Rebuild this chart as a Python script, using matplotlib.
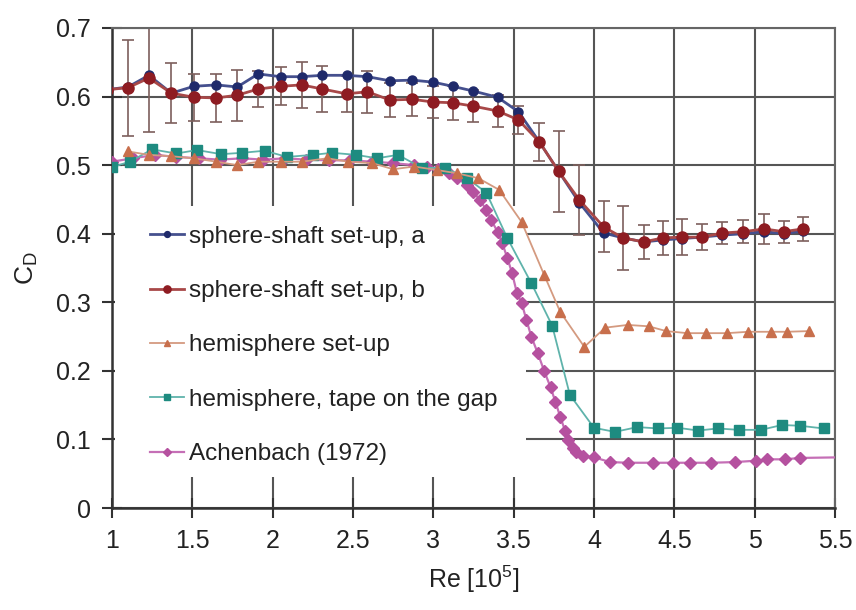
import matplotlib
matplotlib.use('Agg')
import matplotlib.pyplot as plt
from matplotlib.patches import Rectangle

plt.rcParams['font.family'] = ['Liberation Sans', 'DejaVu Sans']
plt.rcParams['mathtext.fontset'] = 'custom'
plt.rcParams['mathtext.rm'] = 'Liberation Sans'
plt.rcParams['mathtext.it'] = 'Liberation Sans'

# sphere-shaft set-up, a / b (same Re points)
re_shaft = [0.97, 1.10, 1.23, 1.37, 1.51, 1.65, 1.78, 1.91, 2.05, 2.18, 2.31, 2.46,
            2.59, 2.73, 2.87, 3.00, 3.12, 3.25, 3.40, 3.53, 3.66, 3.78, 3.91, 4.06,
            4.18, 4.31, 4.43, 4.55, 4.67, 4.80, 4.93, 5.06, 5.18, 5.30]
cd_shaft_a = [0.610, 0.614, 0.631, 0.605, 0.615, 0.617, 0.614, 0.633, 0.629, 0.629, 0.631, 0.631,
              0.629, 0.623, 0.624, 0.621, 0.615, 0.608, 0.599, 0.578, 0.534, 0.491, 0.445, 0.401,
              0.394, 0.388, 0.391, 0.393, 0.395, 0.398, 0.400, 0.403, 0.400, 0.404]
cd_shaft_b = [0.610, 0.613, 0.627, 0.605, 0.599, 0.598, 0.602, 0.611, 0.615, 0.617, 0.611, 0.604,
              0.607, 0.595, 0.596, 0.592, 0.591, 0.586, 0.579, 0.566, 0.534, 0.491, 0.449, 0.410,
              0.394, 0.388, 0.394, 0.395, 0.395, 0.401, 0.403, 0.407, 0.403, 0.407]
err_shaft_b = [0.0, 0.070, 0.078, 0.044, 0.034, 0.035, 0.037, 0.026, 0.028, 0.034, 0.033, 0.026,
               0.031, 0.025, 0.024, 0.023, 0.025, 0.023, 0.023, 0.020, 0.028, 0.059, 0.051, 0.037,
               0.047, 0.025, 0.025, 0.026, 0.019, 0.016, 0.017, 0.022, 0.016, 0.017]

# hemisphere set-up
re_hemi = [1.10, 1.23, 1.37, 1.51, 1.65, 1.78, 1.91, 2.05, 2.18, 2.34, 2.47, 2.62, 2.75,
           2.88, 3.02, 3.15, 3.28, 3.41, 3.55, 3.69, 3.79, 3.94, 4.07, 4.21, 4.34, 4.45,
           4.58, 4.70, 4.83, 4.96, 5.10, 5.20, 5.34]
cd_hemi = [0.520, 0.515, 0.513, 0.510, 0.505, 0.500, 0.505, 0.505, 0.505, 0.510, 0.505, 0.503, 0.494,
           0.498, 0.493, 0.488, 0.481, 0.464, 0.417, 0.340, 0.286, 0.235, 0.263, 0.267, 0.265, 0.258,
           0.255, 0.255, 0.255, 0.257, 0.257, 0.257, 0.258]

# hemisphere, tape on the gap
re_tape = [1.00, 1.11, 1.25, 1.40, 1.53, 1.68, 1.81, 1.95, 2.09, 2.25, 2.37, 2.52, 2.65,
           2.78, 2.93, 3.07, 3.21, 3.33, 3.46, 3.61, 3.74, 3.85, 4.00, 4.13, 4.27, 4.40,
           4.52, 4.65, 4.77, 4.90, 5.04, 5.17, 5.28, 5.43]
cd_tape = [0.497, 0.505, 0.523, 0.517, 0.522, 0.516, 0.518, 0.521, 0.512, 0.515, 0.518, 0.515, 0.510,
           0.515, 0.496, 0.496, 0.481, 0.460, 0.394, 0.328, 0.266, 0.165, 0.117, 0.111, 0.118, 0.116,
           0.117, 0.113, 0.116, 0.114, 0.114, 0.121, 0.120, 0.116]

# Achenbach (1972)
re_ach = [1.00, 1.13, 1.27, 1.40, 1.54, 1.67, 1.81, 1.94, 2.08, 2.21, 2.35, 2.48, 2.62, 2.75,
          2.88, 2.96, 3.03, 3.10, 3.15, 3.21, 3.25, 3.29, 3.33, 3.36, 3.40, 3.43, 3.46, 3.49,
          3.52, 3.55, 3.58, 3.61, 3.65, 3.69, 3.73, 3.76, 3.79, 3.82, 3.84, 3.87, 3.89, 3.93,
          4.00, 4.10, 4.21, 4.37, 4.49, 4.60, 4.73, 4.88, 5.01, 5.08, 5.19, 5.28, 5.56]
cd_ach = [0.505, 0.510, 0.515, 0.512, 0.510, 0.508, 0.510, 0.508, 0.510, 0.508, 0.507, 0.507, 0.505, 0.503,
          0.500, 0.497, 0.494, 0.489, 0.481, 0.471, 0.461, 0.449, 0.435, 0.420, 0.403, 0.386, 0.365, 0.343,
          0.314, 0.299, 0.274, 0.250, 0.226, 0.200, 0.176, 0.155, 0.133, 0.113, 0.099, 0.088, 0.082, 0.076,
          0.074, 0.067, 0.066, 0.066, 0.066, 0.066, 0.066, 0.067, 0.069, 0.071, 0.071, 0.073, 0.074]

x_ticks = [1, 1.5, 2, 2.5, 3, 3.5, 4, 4.5, 5, 5.5]
x_labels = ['1', '1.5', '2', '2.5', '3', '3.5', '4', '4.5', '5', '5.5']
y_ticks = [0, 0.1, 0.2, 0.3, 0.4, 0.5, 0.6, 0.7]
y_labels = ['0', '0.1', '0.2', '0.3', '0.4', '0.5', '0.6', '0.7']

fig = plt.figure(figsize=(8.56, 6.10), dpi=100)
ax = fig.add_axes([0.1308, 0.1672, 0.8446, 0.7869])
ax.set_axisbelow(True)

# white panel behind the legend (hides grid there)
ax.add_patch(Rectangle((1.02, 0.045), 2.56, 0.395, facecolor='white', edgecolor='none', zorder=1))

ax.errorbar(re_shaft, cd_shaft_b, yerr=err_shaft_b, fmt='none', ecolor='#7d5f5c',
            elinewidth=1.2, capsize=4, capthick=1.2, zorder=2)
ax.plot(re_ach, cd_ach, color='#c56fb6', lw=1.6, marker='D', ms=6.5, mfc='#b5519f', mec='#b5519f',
        markevery=list(range(len(re_ach) - 1)), label='Achenbach (1972)', zorder=3)
ax.plot(re_tape, cd_tape, color='#5fb3ab', lw=1.3, marker='s', ms=6.5, mfc='#1e8b80', mec='#1e8b80',
        label='hemisphere, tape on the gap', zorder=4)
ax.plot(re_hemi, cd_hemi, color='#d49a80', lw=1.3, marker='^', ms=7, mfc='#c86f4c', mec='#c86f4c',
        label='hemisphere set-up', zorder=4)
ax.plot(re_shaft, cd_shaft_a, color='#45508e', lw=2, marker='o', ms=6.5, mfc='#1f2a6b', mec='#1f2a6b',
        label='sphere-shaft set-up, a', zorder=5)
ax.plot(re_shaft, cd_shaft_b, color='#a84848', lw=2, marker='o', ms=8, mfc='#8e1c22', mec='#8e1c22',
        label='sphere-shaft set-up, b', zorder=6)

ax.set_xlim(1, 5.5)
ax.set_ylim(0, 0.7)
ax.set_xticks(x_ticks)
ax.set_xticklabels(x_labels)
ax.set_yticks(y_ticks)
ax.set_yticklabels(y_labels)
ax.tick_params(axis='both', direction='inout', length=14, width=1.5, color='#333333',
               labelsize=18, labelcolor='#222222', pad=8)
ax.grid(True, color='#555555', lw=1.5)
for s in ['left', 'bottom']:
    ax.spines[s].set_color('#333333')
    ax.spines[s].set_linewidth(1.8)
for s in ['top', 'right']:
    ax.spines[s].set_color('#666666')
    ax.spines[s].set_linewidth(1.5)

ax.set_xlabel('Re [10$^{5}$]', fontsize=18, color='#222222', labelpad=8)
ax.set_ylabel('C$_{\\mathrm{D}}$', fontsize=19, color='#222222', labelpad=12)

handles, labels = ax.get_legend_handles_labels()
order = [3, 4, 2, 1, 0]
ax.legend([handles[i] for i in order], [labels[i] for i in order],
          loc='upper left', bbox_to_anchor=(0.053, 0.588), frameon=False,
          fontsize=17.5, handlelength=1.4, handletextpad=0.2, labelspacing=1.33,
          borderpad=0, borderaxespad=0, markerscale=0.65, labelcolor='#222222')

fig.savefig('out.png', dpi=100)
